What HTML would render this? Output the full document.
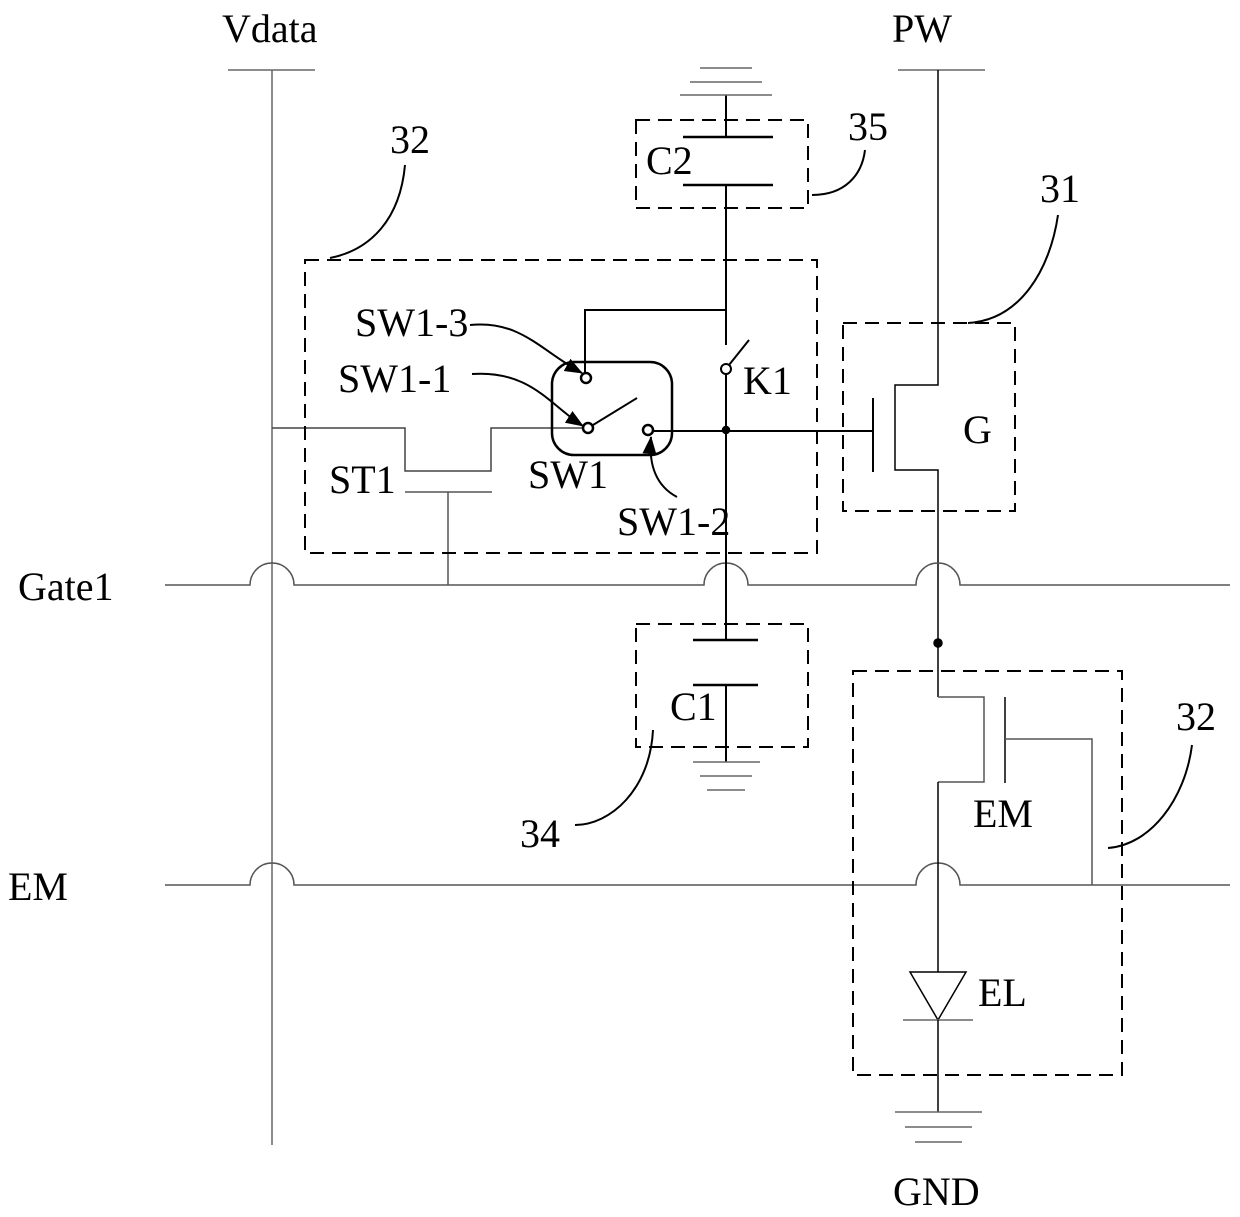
<!DOCTYPE html>
<html><head><style>
body{margin:0;background:#fff}
svg{display:block}
text{font-family:"Liberation Serif",serif;font-size:40px;fill:#000}
</style></head><body>
<svg width="1240" height="1217" viewBox="0 0 1240 1217" xmlns="http://www.w3.org/2000/svg">
<defs>
<marker id="b" markerWidth="18" markerHeight="18" refX="17" refY="9" orient="auto" markerUnits="userSpaceOnUse" viewBox="0 0 18 18"><path d="M0,2 L18,9 L0,16z" fill="#000"/></marker></defs>
<g fill="none" stroke="#000" stroke-width="1.5">
<!-- Vdata -->
<path d="M228,70H315M272,70V1145" stroke="#666"/>
<!-- PW -->
<path d="M898,70H985" stroke="#666"/>
<path d="M938,70V385H895V470H938V697"/>
<!-- Gate1 -->
<path d="M165,585H250A22,22 0 0 1 294,585H704A22,22 0 0 1 748,585H916A22,22 0 0 1 960,585H1230" stroke="#555"/>
<!-- EM -->
<path d="M165,885H250A22,22 0 0 1 294,885H916A22,22 0 0 1 960,885H1230" stroke="#555"/>
<!-- ST1 -->
<path d="M272,428H405V471H491V428H582" stroke="#444"/>
<path d="M405,492H492M448,492V585" stroke="#555"/>
<!-- SW1 box -->
<rect x="552" y="362" width="120" height="93" rx="22" stroke-width="2.5"/>
<circle cx="586" cy="378" r="5" stroke-width="2.5"/>
<circle cx="588" cy="428" r="5" stroke-width="2.5"/>
<circle cx="648" cy="430" r="5" stroke-width="2.5"/>
<path d="M593,425L637,398" stroke-width="2"/>
<path d="M585,373V310H726" stroke-width="2"/>
<path d="M654,431H873" stroke-width="2"/>
<circle cx="726" cy="430" r="3.5" fill="#000"/>
<!-- K1 and vertical -->
<path d="M726,95V137M726,185V345M726,374V640" stroke-width="2"/>
<circle cx="726" cy="369" r="5" stroke-width="2"/>
<path d="M729,365L749,340" stroke-width="2"/>
<!-- C2 -->
<path d="M683,137H773M683,185H773" stroke-width="2.5"/>
<path d="M700,68H752M690,82H762M680,95H772" stroke="#666"/>
<!-- C1 -->
<path d="M693,640H758M693,685H758" stroke-width="2.5"/>
<path d="M726,685V762" stroke-width="2"/>
<path d="M693,762H760M700,776H752M707,790H745" stroke="#666"/>
<!-- G transistor -->
<path d="M873,398V472" stroke-width="2"/>
<circle cx="938" cy="643" r="4" fill="#000"/>
<!-- EM transistor -->
<path d="M938,697H984V782H938" stroke="#555"/>
<path d="M1005,697V783" stroke-width="1.5"/>
<path d="M1005,739H1092V885" stroke="#555"/>
<path d="M938,782V972"/>
<path d="M910,972H966L938,1020Z"/>
<path d="M903,1020H973" stroke="#666"/>
<path d="M938,1020V1112"/>
<path d="M895,1112H982M905,1127H972M915,1142H962" stroke="#666"/>
<g stroke-dasharray="14,8" stroke-width="2">
<rect x="305" y="260" width="512" height="293"/>
<rect x="636" y="120" width="172" height="88"/>
<rect x="843" y="323" width="172" height="188"/>
<rect x="636" y="624" width="172" height="123"/>
<rect x="853" y="671" width="269" height="404"/>
</g>
<path d="M330,258C370,250 400,220 405,165" stroke-width="2"/>
<path d="M812,195C845,195 862,175 865,150" stroke-width="2"/>
<path d="M968,323C1020,320 1050,270 1058,215" stroke-width="2"/>
<path d="M653,730C650,790 610,825 575,825" stroke-width="2"/>
<path d="M1108,848C1150,845 1185,800 1192,745" stroke-width="2"/>
<path d="M470,325C520,320 540,350 582,373" stroke-width="2" marker-end="url(#b)"/>
<path d="M472,374C530,370 550,405 583,426" stroke-width="2" marker-end="url(#b)"/>
<path d="M677,497C660,488 648,470 651,437" stroke-width="2" marker-end="url(#b)"/>
</g>
<g>
<text x="222" y="42">Vdata</text>
<text x="892" y="42">PW</text>
<text x="18" y="600">Gate1</text>
<text x="8" y="900">EM</text>
<text x="390" y="153">32</text>
<text x="848" y="140">35</text>
<text x="1040" y="202">31</text>
<text x="1176" y="730">32</text>
<text x="520" y="847">34</text>
<text x="646" y="174">C2</text>
<text x="670" y="720">C1</text>
<text x="743" y="394">K1</text>
<text x="963" y="443">G</text>
<text x="973" y="827">EM</text>
<text x="978" y="1006">EL</text>
<text x="893" y="1205">GND</text>
<text x="355" y="336">SW1-3</text>
<text x="338" y="392">SW1-1</text>
<text x="329" y="493">ST1</text>
<text x="528" y="488">SW1</text>
<text x="617" y="535">SW1-2</text>
</g>
</svg>
</body></html>
